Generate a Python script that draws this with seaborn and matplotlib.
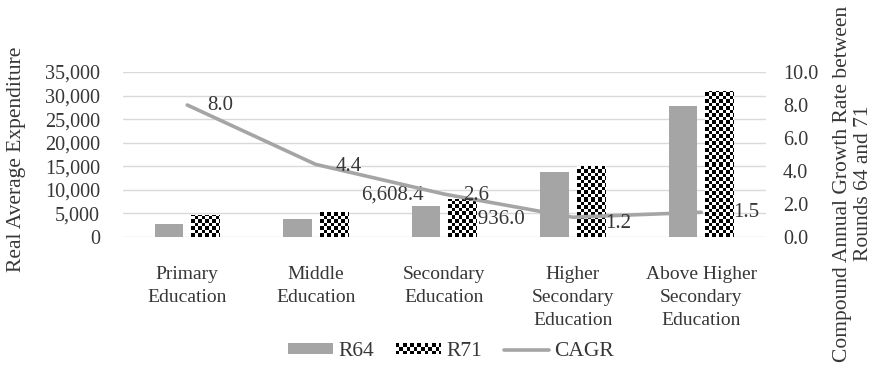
import numpy as np
import pandas as pd
import matplotlib
matplotlib.use("Agg")
import matplotlib.pyplot as plt
import seaborn as sns
from matplotlib.patches import Patch, Rectangle
from matplotlib.lines import Line2D
from matplotlib.legend_handler import HandlerBase
from matplotlib.ticker import FuncFormatter, MultipleLocator

# ---- data -------------------------------------------------------------
levels = [
    "Primary\nEducation",
    "Middle\nEducation",
    "Secondary\nEducation",
    "Higher\nSecondary\nEducation",
    "Above Higher\nSecondary\nEducation",
]
rounds = ["R64", "R71"]
r64 = [2700, 3850, 6608.4, 13800, 27800]
r71 = [4650, 5200, 7936.0, 14950, 30850]
cagr = [8.0, 4.4, 2.6, 1.2, 1.5]

# ---- style ------------------------------------------------------------
sns.set_style("white")
plt.rcParams["font.family"] = ["Liberation Serif", "DejaVu Serif"]
TEXT = "#363636"
GREY = "#a5a5a5"
GRID = "#d9d9d9"
plt.rcParams["text.color"] = TEXT
plt.rcParams["axes.labelcolor"] = TEXT
plt.rcParams["xtick.color"] = TEXT
plt.rcParams["ytick.color"] = TEXT

W, H = 882, 368
fig = plt.figure(figsize=(W / 100, H / 100), dpi=100)
left, right, bottom, top = 123, 765.5, 237, 72
ax = fig.add_axes([left / W, 1 - bottom / H, (right - left) / W, (bottom - top) / H])

df = pd.DataFrame({
    "level": levels * 2,
    "round": [rounds[0]] * len(levels) + [rounds[1]] * len(levels),
    "value": r64 + r71,
})

sns.barplot(
    data=df, x="level", y="value", hue="round", order=levels, hue_order=rounds,
    palette={"R64": GREY, "R71": "white"}, width=0.57, gap=0.22,
    errorbar=None, saturation=1, linewidth=0, legend=False, ax=ax, zorder=3,
)

ax.set_xlim(-0.5, len(levels) - 0.5)
ax.set_ylim(0, 35000)
ax.yaxis.set_major_locator(MultipleLocator(5000))
ax.yaxis.set_major_formatter(FuncFormatter(lambda v, p: f"{v:,.0f}"))
ax.grid(axis="y", color=GRID, lw=1, zorder=0)
ax.grid(axis="x", visible=False)
ax.set_axisbelow(True)
for s in ax.spines.values():
    s.set_visible(False)
ax.tick_params(axis="y", length=0, pad=16.5, labelsize=14.5)
ax.tick_params(axis="x", length=0, pad=21, labelsize=14)
for tl in ax.get_xticklabels():
    tl.set_linespacing(1.45)
ax.set_xlabel("")
ax.set_ylabel("Real Average Expenditure", fontsize=15.5)
ax.yaxis.label.set_va("center")
ax.yaxis.set_label_coords((17 - left) / (right - left), (bottom - 159) / (bottom - top))


# checkered fill for the R71 bars
def checker(nx, ny, cell):
    xs = (np.arange(nx) // cell).astype(int)
    ys = (np.arange(ny) // cell).astype(int)
    return ((xs[None, :] + ys[:, None]) % 2).astype(float)


fig.canvas.draw()
cell_px = 3.5
for bar in ax.containers[1]:
    x0, x1 = bar.get_x(), bar.get_x() + bar.get_width()
    h = bar.get_height()
    (px0, py0), (px1, py1) = ax.transData.transform([(x0, 0), (x1, h)])
    nx = max(1, int(round(abs(px1 - px0))))
    ny = max(1, int(round(abs(py1 - py0))))
    img = checker(nx, ny, cell_px)
    ax.imshow(img, cmap="gray", vmin=0, vmax=1, extent=[x0, x1, 0, h],
              origin="lower", aspect="auto", interpolation="nearest", zorder=3.5)
ax.set_xlim(-0.5, len(levels) - 0.5)
ax.set_ylim(0, 35000)

# value labels for the secondary-education bars
sec = 2
b64 = ax.containers[0][sec]
b71 = ax.containers[1][sec]
ax.annotate(f"{r64[sec]:,.1f}", xy=(b64.get_x() + b64.get_width() / 2, r64[sec]),
            xytext=(-34, 11), textcoords="offset pixels", ha="center", va="center",
            fontsize=15, zorder=2.5)
ax.annotate(f"{r71[sec]:,.1f}", xy=(b71.get_x() + b71.get_width() / 2, r71[sec]),
            xytext=(31, -19), textcoords="offset pixels", ha="center", va="center",
            fontsize=15, zorder=2.5)

# ---- growth rate line on the secondary axis --------------------------
ax2 = ax.twinx()
sns.lineplot(x=np.arange(len(levels)), y=cagr, color=GREY, lw=2.6, ax=ax2, zorder=5)
ax2.set_xlim(-0.5, len(levels) - 0.5)
ax2.set_ylim(0, 10)
ax2.yaxis.set_major_locator(MultipleLocator(2))
ax2.yaxis.set_major_formatter(FuncFormatter(lambda v, p: f"{v:.1f}"))
ax2.grid(False)
for s in ax2.spines.values():
    s.set_visible(False)
ax2.tick_params(axis="y", length=0, pad=12.5, labelsize=14.5)
ax2.set_ylabel("Compound Annual Growth Rate between\nRounds 64 and 71", fontsize=15.5)
ax2.yaxis.label.set_va("center")
ax2.yaxis.label.set_multialignment("center")
ax2.yaxis.set_label_coords((853 - left) / (right - left), (bottom - 183.5) / (bottom - top))

label_shift = [(20, -1), (20, -2), (19, -1), (32, -6), (32, 0)]
for i, v in enumerate(cagr):
    dx, dy = label_shift[i]
    ax2.annotate(f"{v:.1f}", xy=(i, v), xytext=(dx, dy), textcoords="offset pixels",
                 ha="left", va="center", fontsize=15, zorder=6)


# ---- legend -------------------------------------------------------------
class CheckerHandler(HandlerBase):
    def create_artists(self, legend, orig_handle, xdescent, ydescent,
                       width, height, fontsize, trans):
        cell = 2.6
        arts = [Rectangle((-xdescent, -ydescent), width, height,
                          facecolor="white", edgecolor="none", transform=trans)]
        nx = int(np.ceil(width / cell))
        ny = int(np.ceil(height / cell))
        for i in range(nx):
            for j in range(ny):
                if (i + j) % 2 == 0:
                    w = min(cell, width - i * cell)
                    hh = min(cell, height - j * cell)
                    arts.append(Rectangle((-xdescent + i * cell, -ydescent + j * cell), w, hh,
                                          facecolor="black", edgecolor="none", transform=trans))
        return arts


checker_handle = Patch(facecolor="white", label="R71")
handles = [
    Patch(facecolor=GREY, edgecolor="none", label="R64"),
    checker_handle,
    Line2D([], [], color=GREY, lw=2.6, label="CAGR"),
]
fig.legend(handles=handles, labels=["R64", "R71", "CAGR"], loc="center",
           bbox_to_anchor=(451 / W, 1 - 352 / H), ncol=3, frameon=False,
           fontsize=15.5, handlelength=2.1, handleheight=0.4, handletextpad=0.25,
           columnspacing=1.0, handler_map={checker_handle: CheckerHandler()})

fig.savefig("out.png", dpi=100)
